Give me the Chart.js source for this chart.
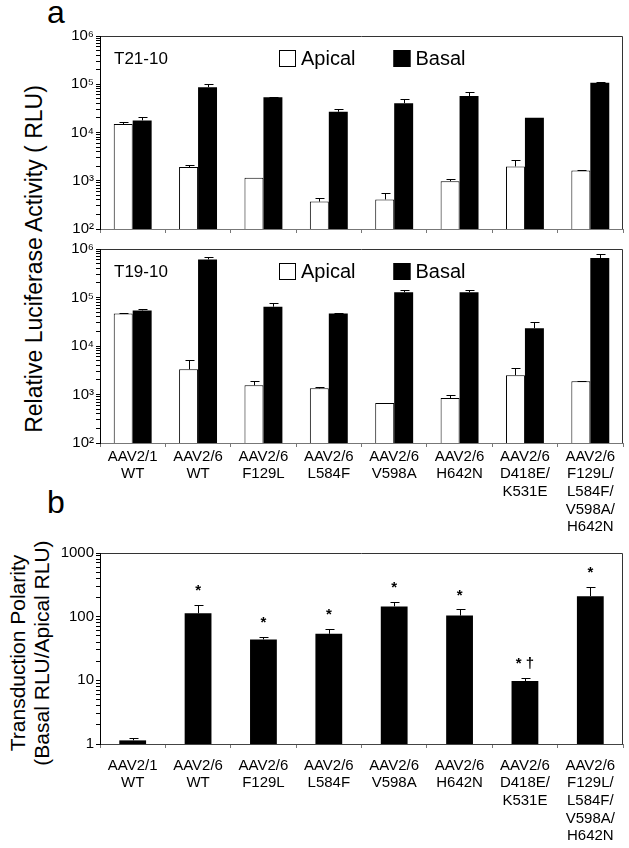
<!DOCTYPE html>
<html>
<head>
<meta charset="utf-8">
<script src="https://cdn.jsdelivr.net/npm/chart.js@4"></script>
<style>
  body { margin: 0; background: #fff; }
  #wrap { position: relative; width: 629px; height: 848px; overflow: hidden; font-family: 'Liberation Sans', Arial, sans-serif; color: #000; }
  canvas { position: absolute; left: 0; }
  .lbl { position: absolute; }
  .rot { position: absolute; transform: translate(-50%, -50%) rotate(-90deg); white-space: nowrap; text-align: center; }
</style>
</head>
<body>
<div id="wrap">
  <div class="lbl" style="left:47px; top:-6px; font-size:32px;">a</div>
  <div class="lbl" style="left:47px; top:484px; font-size:32px;">b</div>
  <div class="rot" style="left:34px; top:259px; font-size:23px;">Relative Luciferase Activity ( RLU)</div>
  <div class="rot" style="left:30px; top:653px; font-size:21px; line-height:24px;">Transduction Polarity<br>(Basal RLU/Apical RLU)</div>
  <canvas id="cT21" width="629" height="215" style="top:25px"></canvas>
  <canvas id="cT19" width="629" height="305" style="top:238px"></canvas>
  <canvas id="cPol" width="629" height="306" style="top:542px"></canvas>
</div>
<script>
// categories (multi-line labels)
const groupLabels = [
  ['AAV2/1', 'WT'],
  ['AAV2/6', 'WT'],
  ['AAV2/6', 'F129L'],
  ['AAV2/6', 'L584F'],
  ['AAV2/6', 'V598A'],
  ['AAV2/6', 'H642N'],
  ['AAV2/6', 'D418E/', 'K531E'],
  ['AAV2/6', 'F129L/', 'L584F/', 'V598A/', 'H642N']
];

// panel a, T21-10 (RLU); *Err = top of the error bar
const t21Apical    = [15000, 1920, 1160, 370, 410, 980, 1980, 1640];
const t21ApicalErr = [16500, 2150, 1160, 440, 555, 1090, 2750, 1700];
const t21Basal     = [17800, 87000, 53700, 26900, 40500, 57000, 20300, 107000];
const t21BasalErr  = [21000, 102000, 55000, 30000, 49000, 69000, 20300, 111000];

// panel a, T19-10 (RLU)
const t19Apical    = [46900, 3320, 1550, 1340, 667, 846, 2500, 1880];
const t19ApicalErr = [48000, 5100, 1880, 1450, 667, 977, 3490, 1930];
const t19Basal     = [54100, 610000, 64500, 46900, 128000, 128000, 23300, 650000];
const t19BasalErr  = [57000, 670000, 78000, 47500, 141000, 141000, 31500, 787000];

// panel b, basal/apical ratio
const polarity      = [1.14, 113, 43.9, 53.8, 145, 104, 9.76, 210];
const polarityErr   = [1.24, 154, 47.7, 65, 173, 130, 11, 292];
const polarityMarks = ['', '*', '*', '*', '*', '*', '* \u2020', '*'];

// tick labels
const decadesA = [1e2, 1e3, 1e4, 1e5, 1e6];
const decadesB = [1, 10, 100, 1000];
const supers = { '2': '\u00b2', '3': '\u00b3', '4': '\u2074', '5': '\u2075', '6': '\u2076' };

const FONT = "'Liberation Sans', Arial, sans-serif";
Chart.defaults.font.family = FONT;
Chart.defaults.color = '#000';

// minor tick positions 1..9 per decade
function logTicks(decs) {
  const out = [];
  decs.forEach((d, i) => {
    if (i === decs.length - 1) { out.push(d); return; }
    for (let k = 1; k < 10; k++) out.push(k * d);
  });
  return out;
}

// upward error bars with a cap
const errorBars = {
  id: 'errorBars',
  afterDatasetsDraw(chart) {
    const ctx = chart.ctx;
    const y = chart.scales.y;
    chart.data.datasets.forEach((ds, di) => {
      if (!ds.errTop) return;
      chart.getDatasetMeta(di).data.forEach((bar, i) => {
        const top = ds.errTop[i];
        if (top <= ds.data[i]) return;
        const yt = Math.round(y.getPixelForValue(top)) + 0.5;
        const x = Math.round(bar.x) + 0.5;
        ctx.save();
        ctx.strokeStyle = '#000';
        ctx.lineWidth = 1;
        ctx.beginPath();
        ctx.moveTo(x, bar.y);
        ctx.lineTo(x, yt);
        ctx.moveTo(x - 4, yt);
        ctx.lineTo(x + 5, yt);
        ctx.stroke();
        ctx.restore();
      });
    });
  }
};

// plot frame
const frame = {
  id: 'frame',
  afterDraw(chart, args, opts) {
    const a = chart.chartArea;
    const ctx = chart.ctx;
    ctx.save();
    ctx.lineWidth = 1;
    ctx.strokeStyle = opts.color || '#333';
    ctx.beginPath();
    ctx.moveTo(a.left + 0.5, a.top + 0.5);
    ctx.lineTo(a.right - 0.5, a.top + 0.5);
    ctx.lineTo(a.right - 0.5, a.bottom + 0.5);
    ctx.stroke();
    ctx.strokeStyle = opts.baseColor || '#666';
    ctx.beginPath();
    ctx.moveTo(a.left, a.bottom + 0.5);
    ctx.lineTo(a.right, a.bottom + 0.5);
    ctx.stroke();
    ctx.strokeStyle = '#000';
    ctx.beginPath();
    ctx.moveTo(a.left + 0.5, a.top);
    ctx.lineTo(a.left + 0.5, a.bottom + 1);
    ctx.stroke();
    ctx.restore();
  }
};

// panel name and in-plot legend
const panelText = {
  id: 'panelText',
  afterDraw(chart, args, opts) {
    if (!opts.title) return;
    const a = chart.chartArea;
    const ctx = chart.ctx;
    const cy = a.top + 22;
    ctx.save();
    ctx.fillStyle = '#000';
    ctx.textBaseline = 'middle';
    ctx.font = '17px ' + FONT;
    ctx.fillText(opts.title, a.left + 14, cy + 1);
    ctx.font = '20px ' + FONT;
    let x = a.left + 179;
    chart.data.datasets.forEach(ds => {
      ctx.fillStyle = ds.backgroundColor;
      ctx.fillRect(x, cy - 8, 17, 17);
      ctx.strokeStyle = '#000';
      ctx.lineWidth = 1;
      ctx.strokeRect(x + 0.5, cy - 7.5, 16, 16);
      ctx.fillStyle = '#000';
      ctx.fillText(ds.label, x + 22, cy + 1);
      x += 22 + ctx.measureText(ds.label).width + 38;
    });
    ctx.restore();
  }
};

// significance marks above the error bars
const marks = {
  id: 'marks',
  afterDatasetsDraw(chart) {
    const ctx = chart.ctx;
    const y = chart.scales.y;
    chart.data.datasets.forEach((ds, di) => {
      if (!ds.marks) return;
      chart.getDatasetMeta(di).data.forEach((bar, i) => {
        if (!ds.marks[i]) return;
        const yt = y.getPixelForValue(ds.errTop[i]) - 14;
        ctx.save();
        ctx.fillStyle = '#000';
        ctx.textAlign = 'center';
        ctx.textBaseline = 'middle';
        ctx.font = 'bold 15px ' + FONT;
        ctx.fillText(ds.marks[i], bar.x, yt);
        ctx.restore();
      });
    });
  }
};

function yScale(min, max, decs, labelFn) {
  return {
    type: 'logarithmic',
    min: min,
    max: max,
    border: { display: false },
    grid: { drawOnChartArea: false, tickLength: 4, color: '#000' },
    afterBuildTicks(s) { s.ticks = logTicks(decs).map(v => ({ value: v })); },
    ticks: {
      autoSkip: false,
      padding: 2,
      font: { size: 15 },
      callback: v => decs.includes(v) ? labelFn(v) : ''
    },
    afterFit(s) { s.width = 100; }
  };
}

function xScale(showLabels, pad, height) {
  return {
    border: { display: false },
    grid: { offset: true, drawOnChartArea: false, tickLength: 4, color: '#777' },
    ticks: {
      display: showLabels,
      autoSkip: false,
      maxRotation: 0,
      padding: pad,
      font: { size: 15, lineHeight: 1.17 }
    },
    afterFit(s) { s.height = height; }
  };
}

const powLabel = v => '10' + supers[String(Math.round(Math.log10(v)))];

function panelA(id, title, apical, apicalErr, basal, basalErr, showLabels) {
  return new Chart(document.getElementById(id), {
    type: 'bar',
    data: {
      labels: groupLabels,
      datasets: [
        { label: 'Apical', data: apical, errTop: apicalErr, backgroundColor: '#fff', borderColor: '#000', borderWidth: 1 },
        { label: 'Basal', data: basal, errTop: basalErr, backgroundColor: '#000', borderColor: '#000', borderWidth: 0 }
      ]
    },
    options: {
      responsive: false,
      animation: false,
      devicePixelRatio: 1,
      layout: { padding: { top: 10, right: 6, left: 0, bottom: 0 } },
      datasets: { bar: { categoryPercentage: 0.58, barPercentage: 1 } },
      plugins: {
        legend: { display: false },
        tooltip: { enabled: false },
        panelText: { title: title },
        frame: { color: '#333', baseColor: '#777' }
      },
      scales: {
        x: xScale(showLabels, 1, showLabels ? 100 : 8),
        y: yScale(1e2, 1e6, decadesA, powLabel)
      }
    },
    plugins: [errorBars, frame, panelText]
  });
}

panelA('cT21', 'T21-10', t21Apical, t21ApicalErr, t21Basal, t21BasalErr, false);
panelA('cT19', 'T19-10', t19Apical, t19ApicalErr, t19Basal, t19BasalErr, true);

new Chart(document.getElementById('cPol'), {
  type: 'bar',
  data: {
    labels: groupLabels,
    datasets: [
      { label: 'Polarity', data: polarity, errTop: polarityErr, marks: polarityMarks, backgroundColor: '#000', borderWidth: 0 }
    ]
  },
  options: {
    responsive: false,
    animation: false,
    devicePixelRatio: 1,
    layout: { padding: { top: 10, right: 6, left: 0, bottom: 0 } },
    datasets: { bar: { categoryPercentage: 1, barPercentage: 0.41 } },
    plugins: {
      legend: { display: false },
      tooltip: { enabled: false },
      frame: { color: '#333', baseColor: '#444' }
    },
    scales: {
      x: xScale(true, 9, 104),
      y: yScale(1, 1000, decadesB, v => String(v))
    }
  },
  plugins: [errorBars, frame, marks]
});
</script>
</body>
</html>
